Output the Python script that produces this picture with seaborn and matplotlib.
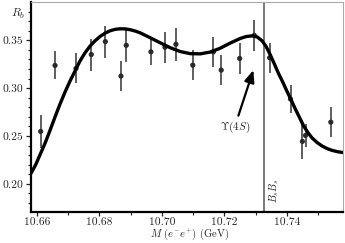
import numpy as np
import pandas as pd
import matplotlib
matplotlib.use("Agg")
import matplotlib.pyplot as plt
import seaborn as sns

# measured points: R_b vs M(e-e+)
mass = [10.6612, 10.6658, 10.6725, 10.6774, 10.6819, 10.6869, 10.6886, 10.6965,
        10.7010, 10.7045, 10.7099, 10.7165, 10.7190, 10.7249, 10.7296, 10.7345,
        10.7412, 10.7450, 10.7460, 10.7541]
rb = [0.2548, 0.3238, 0.3207, 0.3352, 0.3487, 0.3127, 0.3448, 0.3380,
      0.3428, 0.3459, 0.3241, 0.3380, 0.3189, 0.3311, 0.3552, 0.3318,
      0.2886, 0.2444, 0.2506, 0.2645]
rb_err = [0.0173, 0.0147, 0.0157, 0.0167, 0.0167, 0.0159, 0.0170, 0.0140,
          0.0160, 0.0170, 0.0160, 0.0160, 0.0155, 0.0160, 0.0165, 0.0155,
          0.0147, 0.0180, 0.0125, 0.0155]

# fit curve
fit_mass = [10.6581, 10.6596, 10.6610, 10.6626, 10.6642, 10.6658, 10.6674, 10.6690,
            10.6706, 10.6722, 10.6738, 10.6754, 10.6770, 10.6786, 10.6802, 10.6818,
            10.6834, 10.6850, 10.6866, 10.6882, 10.6899, 10.6915, 10.6931, 10.6963,
            10.6995, 10.7027, 10.7059, 10.7091, 10.7123, 10.7155, 10.7187, 10.7219,
            10.7251, 10.7270, 10.7289, 10.7305, 10.7321, 10.7334, 10.7347, 10.7360,
            10.7373, 10.7387, 10.7400, 10.7414, 10.7427, 10.7441, 10.7454, 10.7468,
            10.7481, 10.7497, 10.7513, 10.7529, 10.7545, 10.7563, 10.7581]
fit_rb = [0.2110, 0.2200, 0.2305, 0.2425, 0.2560, 0.2700, 0.2835, 0.2960,
          0.3075, 0.3180, 0.3285, 0.3370, 0.3440, 0.3495, 0.3540, 0.3575,
          0.3600, 0.3615, 0.3621, 0.3620, 0.3611, 0.3597, 0.3578, 0.3527,
          0.3474, 0.3423, 0.3383, 0.3361, 0.3359, 0.3378, 0.3418, 0.3472,
          0.3520, 0.3540, 0.3547, 0.3536, 0.3495, 0.3435, 0.3350, 0.3255,
          0.3158, 0.3065, 0.2972, 0.2878, 0.2785, 0.2692, 0.2605, 0.2535,
          0.2480, 0.2432, 0.2396, 0.2369, 0.2350, 0.2336, 0.2327]

bsbs_threshold = 10.7328

df = pd.DataFrame({"mass": mass, "rb": rb, "err": rb_err})
fit = pd.DataFrame({"mass": fit_mass, "rb": fit_rb})

sns.set_theme(style="white")
plt.rcParams["font.family"] = ["cmr10", "DejaVu Serif"]
plt.rcParams["mathtext.fontset"] = "cm"
plt.rcParams["axes.formatter.use_mathtext"] = True
plt.rcParams["axes.unicode_minus"] = False

fig = plt.figure(figsize=(3.45, 2.43), dpi=100)
ax = fig.add_axes([31 / 345, 31 / 243, 312 / 345, 210 / 243])

# vertical BsBs threshold line
ax.axvline(bsbs_threshold, color="#555555", lw=1.1, zorder=1)

ax.errorbar(df["mass"], df["rb"], yerr=df["err"], fmt="none",
            ecolor="#333333", elinewidth=1.1, capsize=0, zorder=2)
sns.scatterplot(data=df, x="mass", y="rb", color="#2a2a2a", s=14,
                edgecolor="none", ax=ax, zorder=3)
sns.lineplot(data=fit, x="mass", y="rb", sort=False, estimator=None,
             color="black", lw=2.4, ax=ax, zorder=4,
             solid_joinstyle="round", solid_capstyle="round")

ax.set_xlim(10.6581, 10.7580)
ax.set_ylim(0.1706, 0.3901)

ax.set_xticks([10.66, 10.68, 10.70, 10.72, 10.74])
ax.set_xticklabels(["10.66", "10.68", "10.70", "10.72", "10.74"])
ax.set_xticks(np.arange(10.67, 10.76, 0.02), minor=True)
ax.set_yticks([0.20, 0.25, 0.30, 0.35])
ax.set_yticklabels(["0.20", "0.25", "0.30", "0.35"])
ax.set_yticks([0.18, 0.19, 0.21, 0.22, 0.23, 0.24, 0.26, 0.27, 0.28, 0.29,
               0.31, 0.32, 0.33, 0.34, 0.36, 0.37, 0.38], minor=True)

ax.tick_params(axis="both", which="major", direction="out", length=3.5, width=0.9,
               color="#222222", labelsize=8.3, pad=2, left=True, bottom=True)
ax.tick_params(axis="x", which="major", length=3, pad=0.8)
ax.tick_params(axis="both", which="minor", direction="out", length=2.2, width=0.8,
               color="#222222", left=True, bottom=True)

for side in ["left", "bottom"]:
    ax.spines[side].set_color("black")
    ax.spines[side].set_linewidth(1.6)
for side in ["top", "right"]:
    ax.spines[side].set_color("#aaaaaa")
    ax.spines[side].set_linewidth(0.8)

ax.set_xlabel("")
ax.set_ylabel("")
fig.text(190 / 345, 1.0 / 243, r"$M\ (e^{-}e^{+})$ (GeV)", fontsize=7.6,
         ha="center", va="bottom")
ax.text(-0.042, 0.3776, r"$R_b$", transform=ax.get_yaxis_transform(),
        ha="center", va="center", fontsize=8.5)

ax.annotate("", xy=(10.7293, 0.3189), xytext=(10.7245, 0.2713),
            arrowprops=dict(arrowstyle="-|>,head_length=0.6,head_width=0.25",
                            color="black", lw=1.6, shrinkA=0, shrinkB=0))
ax.text(10.7235, 0.2586, r"$\Upsilon(4S)$", ha="center", va="center", fontsize=8)
ax.text(10.7358, 0.1929, r"$B_sB_s$", rotation=90, ha="center", va="center",
        fontsize=7.5)

fig.savefig("out.png", dpi=100)
plt.close(fig)
